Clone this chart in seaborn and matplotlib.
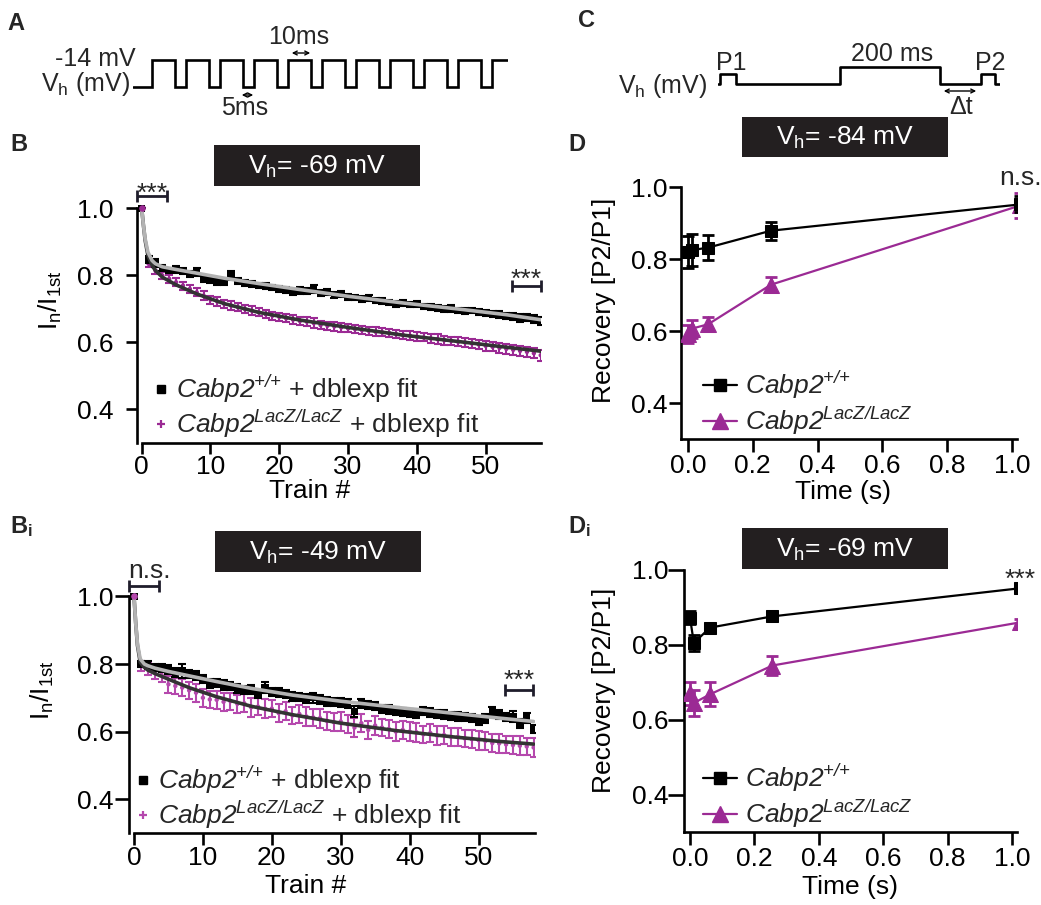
import matplotlib
matplotlib.use('Agg')
import matplotlib.pyplot as plt
import seaborn as sns
import numpy as np
from matplotlib.lines import Line2D
from matplotlib.patches import Rectangle

# ---------------- data ----------------
train = list(range(59))
xticks_train = [0, 10, 20, 30, 40, 50]
yticks_norm = [0.4, 0.6, 0.8, 1.0]

# Panel B (Vh = -69 mV)
wt_b = [1.000, 0.848, 0.838, 0.822, 0.815, 0.818, 0.812, 0.805, 0.810, 0.790,
        0.785, 0.782, 0.780, 0.800, 0.785, 0.778, 0.775, 0.770, 0.768, 0.764,
        0.760, 0.757, 0.752, 0.756, 0.754, 0.760, 0.748, 0.750, 0.742, 0.744,
        0.736, 0.734, 0.730, 0.733, 0.726, 0.724, 0.720, 0.716, 0.718, 0.713,
        0.714, 0.707, 0.705, 0.703, 0.700, 0.702, 0.696, 0.694, 0.696, 0.691,
        0.688, 0.686, 0.684, 0.680, 0.678, 0.673, 0.675, 0.670, 0.664]
wt_b_err = [0.000, 0.010, 0.012, 0.010, 0.008, 0.010, 0.009, 0.008, 0.011, 0.009,
            0.008, 0.009, 0.008, 0.012, 0.009, 0.008, 0.009, 0.008, 0.009, 0.008,
            0.009, 0.008, 0.009, 0.010, 0.009, 0.011, 0.008, 0.009, 0.008, 0.009,
            0.009, 0.008, 0.009, 0.010, 0.008, 0.009, 0.008, 0.009, 0.010, 0.008,
            0.009, 0.008, 0.009, 0.008, 0.009, 0.010, 0.008, 0.009, 0.008, 0.009,
            0.008, 0.009, 0.010, 0.009, 0.010, 0.011, 0.010, 0.011, 0.012]
ko_b = [1.000, 0.835, 0.815, 0.800, 0.790, 0.780, 0.770, 0.760, 0.750, 0.740,
        0.728, 0.722, 0.715, 0.710, 0.705, 0.700, 0.695, 0.690, 0.685, 0.680,
        0.676, 0.672, 0.668, 0.664, 0.662, 0.658, 0.652, 0.650, 0.648, 0.645,
        0.642, 0.640, 0.637, 0.635, 0.632, 0.630, 0.628, 0.625, 0.622, 0.620,
        0.617, 0.615, 0.612, 0.610, 0.607, 0.605, 0.602, 0.600, 0.597, 0.594,
        0.590, 0.587, 0.584, 0.581, 0.578, 0.575, 0.572, 0.568, 0.562]
ko_b_err = [0.000, 0.010, 0.010, 0.011, 0.011, 0.012, 0.012, 0.012, 0.012, 0.013,
            0.012, 0.013, 0.012, 0.013, 0.012, 0.013, 0.013, 0.012, 0.013, 0.012,
            0.013, 0.012, 0.013, 0.012, 0.013, 0.014, 0.013, 0.012, 0.013, 0.013,
            0.012, 0.013, 0.013, 0.012, 0.013, 0.012, 0.013, 0.012, 0.013, 0.014,
            0.013, 0.012, 0.013, 0.014, 0.013, 0.012, 0.013, 0.014, 0.013, 0.014,
            0.014, 0.013, 0.014, 0.015, 0.014, 0.015, 0.014, 0.015, 0.016]
fit_x = [0, 0.25, 0.5, 0.9, 1.5, 2, 3, 5, 8, 12, 17, 23, 30, 38, 46, 53, 58]
fit_b_wt = [1.0, 0.95, 0.91, 0.87, 0.845, 0.835, 0.826, 0.818, 0.807, 0.792,
            0.776, 0.758, 0.738, 0.718, 0.700, 0.683, 0.668]
fit_b_ko = [1.0, 0.95, 0.905, 0.86, 0.83, 0.815, 0.795, 0.772, 0.745, 0.716,
            0.690, 0.667, 0.645, 0.622, 0.603, 0.586, 0.574]

# Panel Bi (Vh = -49 mV)
wt_bi = [1.000, 0.800, 0.797, 0.790, 0.788, 0.783, 0.775, 0.780, 0.770, 0.765,
         0.755, 0.742, 0.745, 0.738, 0.735, 0.728, 0.722, 0.725, 0.712, 0.730,
         0.718, 0.715, 0.712, 0.705, 0.702, 0.698, 0.700, 0.695, 0.690, 0.688,
         0.686, 0.683, 0.660, 0.684, 0.680, 0.676, 0.668, 0.665, 0.660, 0.658,
         0.656, 0.654, 0.660, 0.657, 0.652, 0.650, 0.647, 0.645, 0.642, 0.640,
         0.632, 0.638, 0.658, 0.650, 0.642, 0.645, 0.625, 0.640, 0.608]
wt_bi_err = [0.000, 0.010, 0.012, 0.011, 0.012, 0.013, 0.012, 0.020, 0.012, 0.013,
             0.012, 0.013, 0.012, 0.014, 0.012, 0.013, 0.012, 0.014, 0.012, 0.016,
             0.012, 0.013, 0.012, 0.013, 0.012, 0.013, 0.014, 0.012, 0.013, 0.012,
             0.013, 0.012, 0.016, 0.013, 0.012, 0.013, 0.012, 0.013, 0.012, 0.013,
             0.012, 0.013, 0.012, 0.013, 0.012, 0.013, 0.012, 0.013, 0.012, 0.013,
             0.012, 0.013, 0.016, 0.013, 0.012, 0.016, 0.013, 0.016, 0.012]
ko_bi = [1.000, 0.795, 0.785, 0.775, 0.768, 0.740, 0.735, 0.730, 0.722, 0.715,
         0.700, 0.695, 0.694, 0.688, 0.690, 0.682, 0.684, 0.672, 0.674, 0.668,
         0.668, 0.655, 0.660, 0.648, 0.652, 0.645, 0.642, 0.640, 0.632, 0.628,
         0.630, 0.622, 0.612, 0.625, 0.605, 0.618, 0.612, 0.608, 0.600, 0.605,
         0.600, 0.598, 0.592, 0.596, 0.588, 0.590, 0.585, 0.584, 0.580, 0.578,
         0.575, 0.572, 0.566, 0.565, 0.562, 0.560, 0.558, 0.556, 0.553]
ko_bi_err = [0.000, 0.015, 0.018, 0.020, 0.022, 0.025, 0.024, 0.026, 0.025, 0.027,
             0.026, 0.025, 0.027, 0.026, 0.025, 0.027, 0.026, 0.028, 0.026, 0.027,
             0.026, 0.028, 0.027, 0.026, 0.028, 0.027, 0.026, 0.028, 0.027, 0.026,
             0.028, 0.027, 0.028, 0.026, 0.027, 0.028, 0.026, 0.027, 0.028, 0.026,
             0.027, 0.028, 0.026, 0.027, 0.028, 0.026, 0.027, 0.028, 0.026, 0.027,
             0.028, 0.026, 0.027, 0.028, 0.026, 0.027, 0.028, 0.026, 0.027]
fit_bi_wt = [1.0, 0.92, 0.86, 0.815, 0.80, 0.795, 0.788, 0.778, 0.765, 0.748,
             0.728, 0.708, 0.690, 0.672, 0.655, 0.640, 0.630]
fit_bi_ko = [1.0, 0.92, 0.855, 0.805, 0.79, 0.782, 0.772, 0.755, 0.730, 0.703,
             0.675, 0.650, 0.625, 0.603, 0.585, 0.571, 0.563]

# Panels D / Di : recovery
rec_t = [0.0, 0.012, 0.062, 0.256, 1.025]
xticks_t = [0.0, 0.2, 0.4, 0.6, 0.8, 1.0]
wt_d = [0.820, 0.826, 0.833, 0.880, 0.953]
wt_d_err = [0.045, 0.045, 0.035, 0.025, 0.022]
ko_d = [0.594, 0.608, 0.620, 0.730, 0.950]
ko_d_err = [0.025, 0.025, 0.020, 0.020, 0.035]
wt_di = [0.872, 0.804, 0.845, 0.875, 0.950]
wt_di_err = [0.018, 0.022, 0.006, 0.006, 0.005]
ko_di = [0.670, 0.644, 0.667, 0.744, 0.859]
ko_di_err = [0.030, 0.035, 0.032, 0.025, 0.008]

# Schematic protocols
a_rise_ms = [8.4, 23.4, 38.4, 53.4, 68.4, 83.4, 98.4, 113.4, 128.4, 143.4, 158.4]
a_pulse_ms = 10
a_end_ms = 165.4
c_times = [0, 4, 36, 244, 444, 525, 554, 564]
c_levels = [0, 0.58, 0, 1, 0, 0.58, 0, 0]

# ---------------- style ----------------
sns.set_theme(style='ticks')
plt.rcParams['font.family'] = ['Liberation Sans', 'DejaVu Sans']
plt.rcParams['mathtext.fontset'] = 'custom'
plt.rcParams['mathtext.rm'] = 'Liberation Sans'
plt.rcParams['mathtext.it'] = 'Liberation Sans:italic'
plt.rcParams['mathtext.sf'] = 'Liberation Sans:italic'
plt.rcParams['mathtext.bf'] = 'Liberation Sans:bold'
plt.rcParams['axes.unicode_minus'] = False

MAG = '#9b2a94'
MAG2 = '#b548ad'
DARKFIT = '#333333'
LIGHTFIT = '#b3b3b3'
FS = 19

W, H = 1041, 905
fig = plt.figure(figsize=(W / 100, H / 100), dpi=100)
fig.patch.set_facecolor('white')


def px_ax(l, t, r, b):
    return fig.add_axes([l / W, 1 - b / H, (r - l) / W, (b - t) / H])


def ftext(x, y, s, **kw):
    return fig.text(x / W, 1 - y / H, s, **kw)


def style(ax, xb, yb, tlx, tly, padx, pady):
    sns.despine(ax=ax)
    ax.set_facecolor('none')
    ax.grid(False)
    for s in ['left', 'bottom']:
        ax.spines[s].set_linewidth(1.9)
        ax.spines[s].set_color('black')
    ax.spines['left'].set_bounds(*yb)
    ax.spines['bottom'].set_bounds(*xb)
    ax.tick_params(axis='x', length=tlx, width=1.9, pad=padx, labelsize=FS, colors='black')
    ax.tick_params(axis='y', length=tly, width=1.9, pad=pady, labelsize=FS, colors='black')


def set_labels(ax, box, xl, xlab_c, yl, ylab_c):
    l, t, r, b = box
    ax.set_xlabel(xl, fontsize=FS, va='center', color='black')
    ax.xaxis.set_label_coords((xlab_c[0] - l) / (r - l), (b - xlab_c[1]) / (b - t))
    ax.set_ylabel(yl, fontsize=FS, va='center', color='black')
    ax.yaxis.set_label_coords((ylab_c[0] - l) / (r - l), (b - ylab_c[1]) / (b - t))


def vbox(l, t, r, b, s):
    fig.add_artist(Rectangle((l / W, 1 - b / H), (r - l) / W, (b - t) / H,
                             transform=fig.transFigure, facecolor='#231f20',
                             edgecolor='none'))
    ftext((l + r) / 2, (t + b) / 2 + 1, s, color='white', ha='center', va='center', fontsize=FS)


def train_panel(ax, wt, wt_err, ko, ko_err, fwt, fko, kocol):
    ax.errorbar(train, ko, yerr=ko_err, fmt='none', ecolor=kocol, elinewidth=1.5,
                capsize=3, capthick=1.5, zorder=2)
    sns.scatterplot(x=train, y=ko, ax=ax, marker='o', s=10, color=kocol,
                    edgecolor='none', zorder=2)
    ax.errorbar(train, wt, yerr=wt_err, fmt='none', ecolor='black', elinewidth=1.5,
                capsize=3, capthick=1.5, zorder=3)
    sns.scatterplot(x=train, y=wt, ax=ax, marker='s', s=28, color='black',
                    edgecolor='none', zorder=3)
    sns.lineplot(x=fit_x, y=fko, ax=ax, color=DARKFIT, lw=2.6, estimator=None,
                 sort=False, zorder=4)
    sns.lineplot(x=fit_x, y=fwt, ax=ax, color=LIGHTFIT, lw=2.6, estimator=None,
                 sort=False, zorder=5)
    ax.scatter([0], [1.0], s=14, color=kocol, zorder=6)


WT_LAB = r'$\mathsf{Cabp2}^{\mathsf{{+}/{+}}}$'
KO_LAB = r'$\mathsf{Cabp2}^{\mathsf{LacZ/LacZ}}$'


def train_legend(ax, left, top, kocol):
    h = [Line2D([], [], ls='none', marker='s', ms=6, color='black'),
         Line2D([], [], ls='none', marker='+', ms=6, mew=1.6, color=kocol)]
    labs = [WT_LAB + ' + dblexp fit', KO_LAB + ' + dblexp fit']
    ax.legend(h, labs, loc='upper left', bbox_to_anchor=(left / W, 1 - top / H),
              bbox_transform=fig.transFigure, frameon=False, fontsize=FS,
              handlelength=0.8, handletextpad=0.2, labelspacing=0.1,
              borderpad=0, borderaxespad=0)


def rec_panel(ax, wt, wt_err, ko, ko_err):
    ax.errorbar(rec_t, ko, yerr=ko_err, fmt='none', ecolor=MAG, elinewidth=2,
                capsize=4.5, capthick=2, zorder=2)
    sns.lineplot(x=rec_t, y=ko, ax=ax, color=MAG, lw=1.6, marker='^', ms=11,
                 mec=MAG, estimator=None, sort=False, zorder=3)
    ax.errorbar(rec_t, wt, yerr=wt_err, fmt='none', ecolor='black', elinewidth=2,
                capsize=4.5, capthick=2, zorder=4)
    sns.lineplot(x=rec_t, y=wt, ax=ax, color='black', lw=1.6, marker='s', ms=9,
                 mec='black', estimator=None, sort=False, zorder=5)


def rec_legend(ax, left, top):
    h = [Line2D([], [], color='black', lw=1.6, marker='s', ms=9),
         Line2D([], [], color=MAG, lw=1.6, marker='^', ms=11)]
    labs = [WT_LAB, KO_LAB]
    ax.legend(h, labs, loc='upper left', bbox_to_anchor=(left / W, 1 - top / H),
              bbox_transform=fig.transFigure, frameon=False, fontsize=FS,
              handlelength=1.3, handletextpad=0.3, labelspacing=0.15,
              borderpad=0, borderaxespad=0)


def bracket(ax, x0, x1, y):
    ax.errorbar([(x0 + x1) / 2], [y], xerr=[(x1 - x0) / 2], fmt='none',
                ecolor='#1f1d2b', elinewidth=2, capsize=4, capthick=2, clip_on=False)


# ---------------- Panel B ----------------
boxB = (137, 175, 541, 443)
axB = px_ax(*boxB)
train_panel(axB, wt_b, wt_b_err, ko_b, ko_b_err, fit_b_wt, fit_b_ko, MAG)
axB.set_xlim(-0.683, 58.04)
axB.set_ylim(0.3, 1.1)
axB.set_xticks(xticks_train)
axB.set_yticks(yticks_norm)
style(axB, (0, 58.04), (0.3, 1.0), 7.7, 8, 1, 9)
set_labels(axB, boxB, 'Train #', (310, 491),
           r'I$_\mathregular{n}$/I$_\mathregular{1st}$', (50, 300))
train_legend(axB, 150, 373, MAG)
bracket(axB, -0.68, 3.68, 1.037)
bracket(axB, 53.8, 58.0, 0.768)
ftext(152, 201, '***', ha='center', va='baseline', fontsize=FS)
ftext(526, 287, '***', ha='center', va='baseline', fontsize=FS)
vbox(214, 145, 420, 186, r'V$_\mathregular{h}$= -69 mV')

# ---------------- Panel Bi ----------------
boxBi = (129, 562.6, 535, 833)
axBi = px_ax(*boxBi)
train_panel(axBi, wt_bi, wt_bi_err, ko_bi, ko_bi_err, fit_bi_wt, fit_bi_ko, MAG2)
axBi.set_xlim(-0.726, 58.2)
axBi.set_ylim(0.3, 1.1)
axBi.set_xticks(xticks_train)
axBi.set_yticks(yticks_norm)
style(axBi, (0, 58.2), (0.3, 1.0), 8.5, 10, 1, 1)
set_labels(axBi, boxBi, 'Train #', (306, 886),
           r'I$_\mathregular{n}$/I$_\mathregular{1st}$', (42, 690))
train_legend(axBi, 132, 764, MAG2)
bracket(axBi, -0.73, 3.63, 1.03)
bracket(axBi, 53.8, 57.9, 0.722)
ftext(149, 578, 'n.s.', ha='center', va='baseline', fontsize=FS)
ftext(519, 688, '***', ha='center', va='baseline', fontsize=FS)
vbox(215, 531, 421, 572, r'V$_\mathregular{h}$= -49 mV')

# ---------------- Panel D ----------------
boxD = (681, 169.5, 1017, 439.5)
axD = px_ax(*boxD)
rec_panel(axD, wt_d, wt_d_err, ko_d, ko_d_err)
axD.set_xlim(-0.0216, 1.0154)
axD.set_ylim(0.3, 1.05)
axD.set_xticks(xticks_t)
axD.set_yticks(yticks_norm)
style(axD, (-0.0216, 1.0154), (0.3, 1.0), 9.5, 9, 1, 1)
set_labels(axD, boxD, 'Time (s)', (843, 492), 'Recovery [P2/P1]', (604, 300))
rec_legend(axD, 703, 369)
ftext(1020, 185, 'n.s.', ha='center', va='baseline', fontsize=FS)
vbox(742, 117, 948, 157, r'V$_\mathregular{h}$= -84 mV')

# ---------------- Panel Di ----------------
boxDi = (684, 550.75, 1017, 832)
axDi = px_ax(*boxDi)
rec_panel(axDi, wt_di, wt_di_err, ko_di, ko_di_err)
axDi.set_xlim(-0.0186, 1.0155)
axDi.set_ylim(0.3, 1.05)
axDi.set_xticks(xticks_t)
axDi.set_yticks(yticks_norm)
style(axDi, (-0.0186, 1.0155), (0.3, 1.0), 9.5, 11.5, 1, 0)
set_labels(axDi, boxDi, 'Time (s)', (850, 887), 'Recovery [P2/P1]', (604, 690))
rec_legend(axDi, 703, 762)
ftext(1020, 587, '***', ha='center', va='baseline', fontsize=FS)
vbox(742, 528, 948, 569, r'V$_\mathregular{h}$= -69 mV')

# ---------------- Schematic A ----------------
axA = px_ax(133, 57.3, 508, 89.7)
axA.axis('off')
ax_x = [0]
ax_y = [0]
for r in a_rise_ms:
    ax_x += [r, r, r + a_pulse_ms, r + a_pulse_ms]
    ax_y += [0, 1, 1, 0]
axA.plot(ax_x, ax_y, color='black', lw=1.9, solid_joinstyle='miter')
axA.set_xlim(0, a_end_ms)
axA.set_ylim(-0.1, 1.1)
ftext(136, 59, '-14 mV', ha='right', va='center', fontsize=18)
ftext(130, 84, r'V$_\mathregular{h}$ (mV)', ha='right', va='center', fontsize=18)
ftext(299, 37, '10ms', ha='center', va='center', fontsize=18)
ftext(245, 108, '5ms', ha='center', va='center', fontsize=18)
fig.add_artist(matplotlib.patches.FancyArrowPatch((289 / W, 1 - 53 / H), (313 / W, 1 - 53 / H),
               transform=fig.transFigure, arrowstyle='<->', mutation_scale=7, lw=1, color='black'))
fig.add_artist(matplotlib.patches.FancyArrowPatch((239 / W, 1 - 95 / H), (256 / W, 1 - 95 / H),
               transform=fig.transFigure, arrowstyle='<->', mutation_scale=7, lw=1, color='black'))

# ---------------- Schematic C ----------------
axC = px_ax(718, 64.7, 1000, 86)
axC.axis('off')
axC.plot(c_times, c_levels, drawstyle='steps-post', color='black', lw=1.9)
axC.set_xlim(0, c_times[-1])
axC.set_ylim(-0.115, 1.115)
ftext(707, 86, r'V$_\mathregular{h}$ (mV)', ha='right', va='center', fontsize=18)
ftext(731, 63, 'P1', ha='center', va='center', fontsize=18)
ftext(892, 54, '200 ms', ha='center', va='center', fontsize=18)
ftext(990, 63, 'P2', ha='center', va='center', fontsize=18)
ftext(961, 107, 'Δt', ha='center', va='center', fontsize=18)
fig.add_artist(matplotlib.patches.FancyArrowPatch((941 / W, 1 - 91 / H), (979 / W, 1 - 91 / H),
               transform=fig.transFigure, arrowstyle='<->', mutation_scale=7, lw=1, color='black'))

# ---------------- panel letters ----------------
for s, x, y in [('A', 7, 12), ('B', 10, 133), (r'B$_\mathbf{i}$', 10, 514),
                ('C', 578, 9), ('D', 568, 133), (r'D$_\mathbf{i}$', 568, 514)]:
    ftext(x, y, s, ha='left', va='top', fontsize=17, fontweight='bold')

fig.savefig('out.png', dpi=100, facecolor='white')
